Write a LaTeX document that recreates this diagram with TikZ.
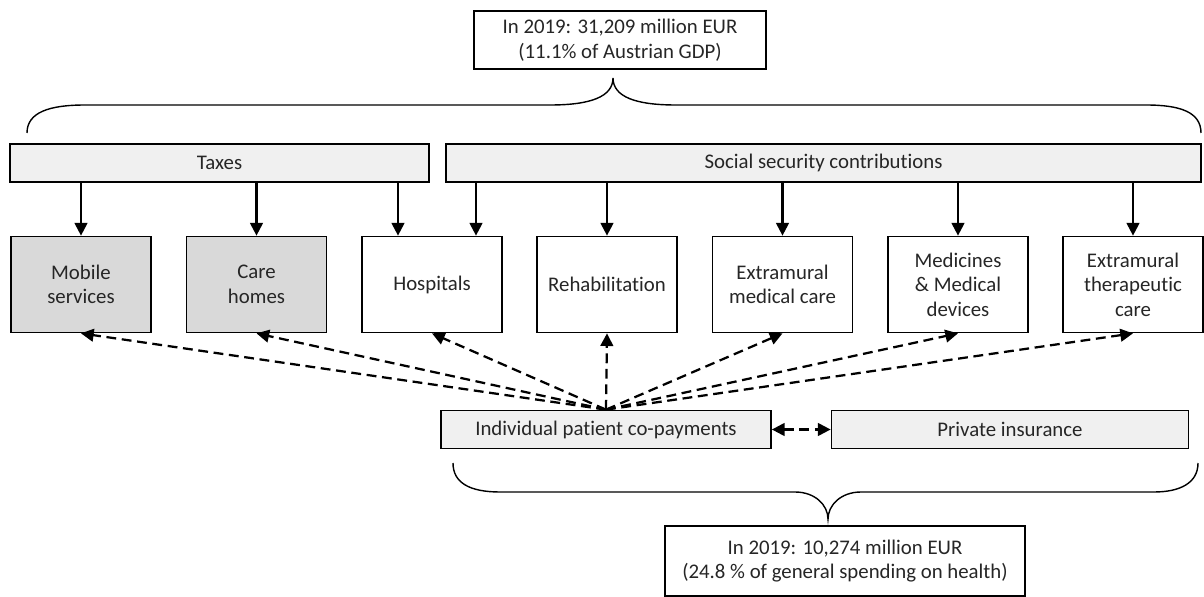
\documentclass[tikz,border=0pt]{standalone}
\usepackage{fontspec}
\setmainfont{Carlito}[Ligatures=CommonOff]
\usepackage{tikz}
\usetikzlibrary{arrows.meta,calc}
\tikzstyle{fund}=[draw,line width=1.2pt,fill=black!6,minimum height=0.95cm,inner sep=0pt]
\tikzstyle{sector}=[draw,line width=1.2pt,fill=white,minimum width=3.5cm,minimum height=2.4cm,align=center,inner sep=0pt]
\tikzstyle{ltc}=[sector,fill=black!15]
\tikzstyle{total}=[draw,line width=1.2pt,fill=white,align=center,inner sep=0pt]
\tikzstyle{flow}=[line width=1.5pt,-{Triangle[length=9pt,width=9pt]}]
\tikzstyle{oop}=[line width=1.6pt,dash pattern=on 7pt off 4pt,-{Triangle[length=9pt,width=9pt]}]
\tikzstyle{bracket}=[line width=1pt]
\newcommand{\tikzpicscale}{0.025cm}

\begin{document}
\begin{tikzpicture}[x=\tikzpicscale,y=-\tikzpicscale,
    every node/.style={font=\fontsize{14.8}{17.5}\selectfont,text=black!85}]
    \useasboundingbox (0,0) rectangle (1204,597);
    % sources of public funding
    \node[total,minimum width=7.3cm,minimum height=1.45cm] (top) at (620,40)
        {In 2019: 31,209 million EUR\\(11.1\% of Austrian GDP)};
    \node[fund,minimum width=10.475cm] (tax) at (219.5,163) {Taxes};
    \node[fund,minimum width=18.875cm] (ssc) at (823.5,163) {Social security contributions};
    % sectors
    \node[ltc]    (mob)     at (81,284.5)    {Mobile\\services};
    \node[ltc]    (care)    at (256.5,284.5) {Care\\homes};
    \node[sector] (hosp)    at (432,284.5)   {Hospitals};
    \node[sector] (rehab)   at (607,284.5)   {Rehabilitation};
    \node[sector] (extmed)  at (782.5,284.5) {Extramural\\medical care};
    \node[sector] (medic)   at (958,284.5)   {Medicines\\\& Medical\\devices};
    \node[sector] (extther) at (1133,284.5)  {Extramural\\therapeutic\\care};
    % private funding
    \node[fund,minimum width=8.25cm]  (copay) at (606,429.5)  {Individual patient co-payments};
    \node[fund,minimum width=8.925cm] (priv)  at (1010,429.5) {Private insurance};
    \node[total,minimum width=9cm,minimum height=1.75cm] (bot) at (845,561)
        {In 2019: 10,274 million EUR\\(24.8 \% of general spending on health)};

    \coordinate (h1) at ($(hosp.north)+(-34,0)$);
    \coordinate (h2) at ($(hosp.north)+(44,0)$);
    \draw[flow] (mob.north |- tax.south) -- (mob.north);
    \draw[flow] (care.north |- tax.south) -- (care.north);
    \draw[flow] (h1 |- tax.south) -- (h1);
    \draw[flow] (h2 |- ssc.south) -- (h2);
    \draw[flow] (rehab.north |- ssc.south) -- (rehab.north);
    \draw[flow] (extmed.north |- ssc.south) -- (extmed.north);
    \draw[flow] (medic.north |- ssc.south) -- (medic.north);
    \draw[flow] (extther.north |- ssc.south) -- (extther.north);

    \draw[oop] (copay.north) -- (mob.south);
    \draw[oop] (copay.north) -- (care.south);
    \draw[oop] (copay.north) -- (hosp.south);
    \draw[oop] (copay.north) -- (rehab.south);
    \draw[oop] (copay.north) -- (extmed.south);
    \draw[oop] (copay.north) -- (medic.south);
    \draw[oop] (copay.north) -- (extther.south);
    \draw[oop,{Triangle[length=9pt,width=9pt]}-{Triangle[length=9pt,width=9pt]}] (copay.east) -- (priv.west);

    % braces
    \coordinate (tip1) at ($(top.south)+(-7,8)$);
    \coordinate (tip2) at ($(bot.north)+(-17,-6)$);
    \draw[bracket] (27,133) .. controls (27,112) and (50,105) .. (85,105) -- (550,105)
        .. controls (590,105) and (613,97) .. (tip1)
        .. controls (613,97) and (636,105) .. (676,105) -- (1146,105)
        .. controls (1180,105) and (1201,112) .. (1201,133);
    \draw[bracket] (453,463) .. controls (453,483) and (470,492) .. (500,492) -- (795,492)
        .. controls (815,492) and (828,505) .. (tip2)
        .. controls (828,505) and (841,492) .. (861,492) -- (1154,492)
        .. controls (1180,492) and (1198,483) .. (1198,463);
\end{tikzpicture}
\end{document}
